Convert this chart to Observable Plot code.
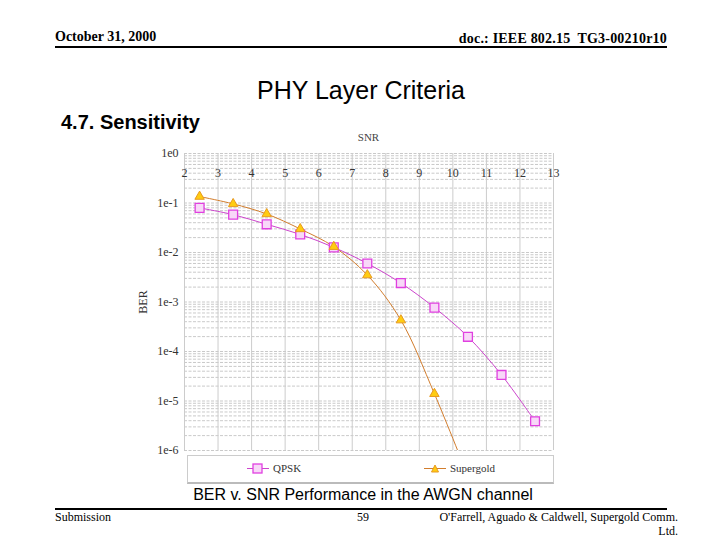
<!DOCTYPE html>
<html>
<head>
<meta charset="utf-8">
<script src="https://cdn.jsdelivr.net/npm/d3@7"></script>
<script src="https://cdn.jsdelivr.net/npm/@observablehq/plot@0.6"></script>
<style>
  html, body { margin: 0; padding: 0; background: #fff; }
  body { width: 720px; height: 540px; position: relative; overflow: hidden; }
  .abs { position: absolute; white-space: nowrap; }
  .serif { font-family: "Liberation Serif", "Times New Roman", serif; }
  .sans { font-family: "Liberation Sans", Arial, sans-serif; }
</style>
</head>
<body>
<div class="abs serif" style="left:55px; top:29px; font-size:14px; font-weight:bold;">October 31, 2000</div>
<div class="abs serif" style="right:53px; top:31px; font-size:14px; font-weight:bold; letter-spacing:0.2px;">doc.: IEEE 802.15&nbsp; TG3-00210r10</div>
<div class="abs" style="left:55px; top:46px; width:612px; height:2px; background:#000;"></div>
<div class="abs sans" style="left:0; width:722px; text-align:center; top:76px; font-size:25px;">PHY Layer Criteria</div>
<div class="abs sans" style="left:61px; top:111px; font-size:20px; font-weight:bold;">4.7. Sensitivity</div>
<div class="abs serif" style="left:184px; width:369px; text-align:center; top:131px; font-size:11px; color:#444;">SNR</div>
<div id="chart" class="abs" style="left:130px; top:130px;"></div>
<div id="legend" class="abs serif" style="left:187px; top:455px; width:365px; height:26px; border:1px solid #ccc; border-bottom:2px solid #bbb; background:#fff; font-size:11px; color:#333;"></div>
<div class="abs sans" style="left:0; width:726px; text-align:center; top:486px; font-size:16px;">BER v. SNR Performance in the AWGN channel</div>
<div class="abs" style="left:55px; top:508px; width:612px; height:2px; background:#000;"></div>
<div class="abs serif" style="left:55px; top:510px; font-size:12px;">Submission</div>
<div class="abs serif" style="left:357px; top:510px; font-size:12px;">59</div>
<div class="abs serif" style="right:42px; top:510px; font-size:12px;">O'Farrell, Aguado &amp; Caldwell, Supergold Comm.</div>
<div class="abs serif" style="right:42px; top:524px; font-size:12px;">Ltd.</div>
<script>
const snrQpsk = [2.45, 3.45, 4.45, 5.45, 6.45, 7.45, 8.45, 9.45, 10.45, 11.45, 12.45];
const berQpsk = [0.0796, 0.0582, 0.0371, 0.0232, 0.0127, 6.0e-3, 2.41e-3, 7.7e-4, 1.98e-4, 3.36e-5, 3.9e-6];
const snrSupergold = [2.45, 3.45, 4.45, 5.45, 6.45, 7.45, 8.45, 9.45, 10.45];
const berSupergold = [0.135, 0.096, 0.060, 0.0299, 0.0131, 3.5e-3, 4.3e-4, 1.4e-5, 3e-7];
const xTicks = [2, 3, 4, 5, 6, 7, 8, 9, 10, 11, 12, 13];
const yTicks = [1, 1e-1, 1e-2, 1e-3, 1e-4, 1e-5, 1e-6];
const seriesNames = ["QPSK", "Supergold"];

const qpsk = snrQpsk.map((x, i) => ({snr: x, ber: berQpsk[i]}));
const supergold = snrSupergold.map((x, i) => ({snr: x, ber: berSupergold[i]}));
const minorY = [];
for (let e = -6; e < 0; e++) for (let m = 1; m <= 9; m++) minorY.push(m * Math.pow(10, e));
minorY.push(1);

const qCol = "#cc44cc", qMark = "#e040e0", sCol = "#d27d2d", sFill = "#ffcc11", sStroke = "#e89a20";

const chart = Plot.plot({
  width: 430,
  height: 330,
  marginLeft: 54,
  marginTop: 23,
  marginRight: 7,
  marginBottom: 10,
  style: {fontFamily: "Liberation Serif, Times New Roman, serif", fontSize: "12px", color: "#333", background: "transparent"},
  x: {domain: [2, 13]},
  y: {type: "log", domain: [1e-6, 1]},
  marks: [
    Plot.ruleY(minorY, {stroke: "#bbb", strokeWidth: 0.8, strokeDasharray: "3,1.5"}),
    Plot.ruleX(xTicks, {stroke: "#ccc", strokeWidth: 1}),
    Plot.axisX({anchor: "top", ticks: xTicks, tickSize: 0, tickPadding: 0, dy: 23, label: null, tickFormat: d => String(d)}),
    Plot.axisY({ticks: yTicks, tickSize: 0, tickPadding: 6, tickFormat: d => "1e" + Math.round(Math.log10(d)), label: "BER", labelAnchor: "center", labelOffset: 46, labelArrow: "none"}),
    Plot.line(qpsk, {x: "snr", y: "ber", stroke: qCol, strokeWidth: 1, curve: "catmull-rom", clip: true}),
    Plot.line(supergold, {x: "snr", y: "ber", stroke: sCol, strokeWidth: 1, curve: "catmull-rom", clip: true}),
    Plot.dot(qpsk, {x: "snr", y: "ber", symbol: "square", r: 5, stroke: qMark, strokeWidth: 1.3, fill: "#f8d8f8", clip: true}),
    Plot.dot(supergold.filter(d => d.ber >= 1e-6), {x: "snr", y: "ber", symbol: "triangle", r: 3.5, stroke: sStroke, strokeWidth: 1, fill: sFill, clip: true})
  ]
});
document.getElementById("chart").appendChild(chart);

// legend
const legend = document.getElementById("legend");
const legendSpec = [
  {name: seriesNames[0], left: 59, stroke: qCol, mark: `<rect x="6" y="1" width="9" height="9" fill="#f8d8f8" stroke="${qMark}" stroke-width="1.3"/>`},
  {name: seriesNames[1], left: 236, stroke: sCol, mark: `<path d="M11,2 L14.5,9 L7.5,9 Z" fill="${sFill}" stroke="${sStroke}"/>`}
];
legendSpec.forEach(s => {
  const item = document.createElement("div");
  item.style.cssText = `position:absolute; left:${s.left}px; top:6px; display:flex; align-items:center; gap:4px;`;
  item.innerHTML = `<svg width="22" height="11"><line x1="0" x2="22" y1="5.5" y2="5.5" stroke="${s.stroke}"/>${s.mark}</svg><span>${s.name}</span>`;
  legend.appendChild(item);
});
</script>
</body>
</html>
